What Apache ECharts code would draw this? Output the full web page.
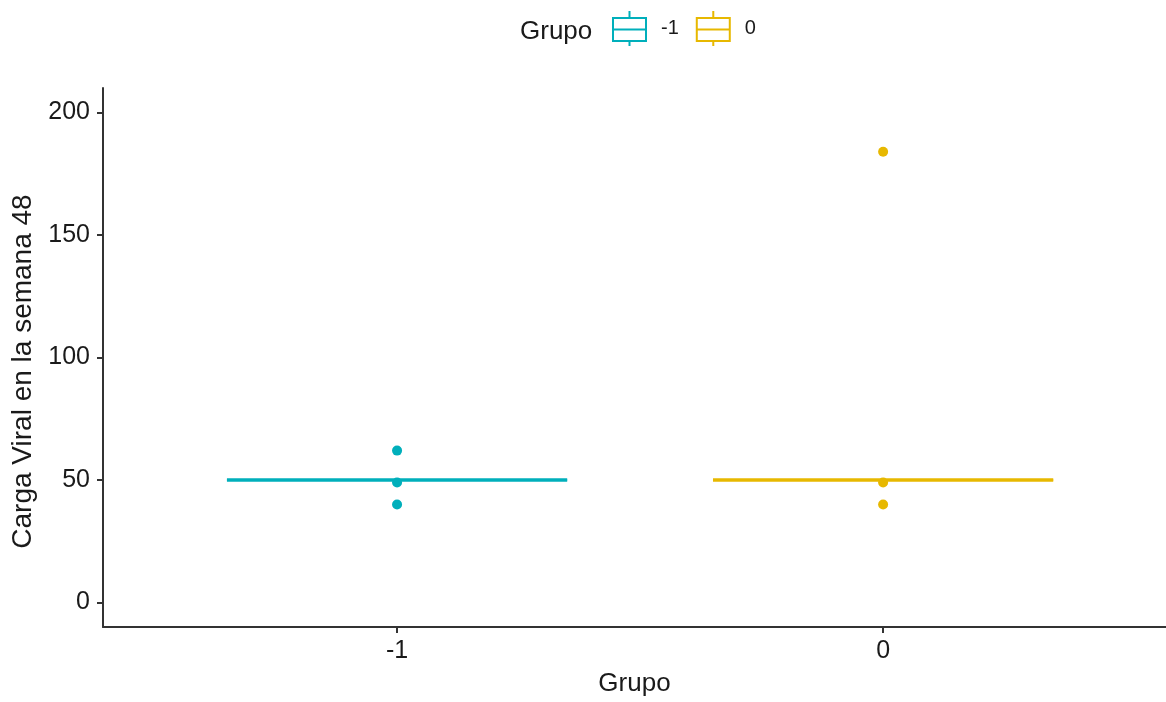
<!DOCTYPE html>
<html>
<head>
<meta charset="utf-8">
<script src="https://cdn.jsdelivr.net/npm/echarts@6/dist/echarts.min.js"></script>
<style>html,body{margin:0;padding:0;background:#fff;}#c{width:1166px;height:702px;}</style>
</head>
<body>
<div id="c"></div>
<script>
// Data
const groups = ['-1', '0'];
const groupColors = ['#00AFBB', '#E7B800'];
// [min whisker, Q1, median, Q3, max whisker]
const boxNeg1 = [50, 50, 50, 50, 50];
const box0 = [50, 50, 50, 50, 50];
const outliersNeg1 = [62, 49, 40];
const outliers0 = [184, 49, 40];
const yTicks = [0, 50, 100, 150, 200];

const boxes = [boxNeg1, box0];
const outliers = [outliersNeg1, outliers0];
const halfWidth = 0.35;

const chart = echarts.init(document.getElementById('c'));
const font = 'Liberation Sans, Arial, sans-serif';
const boxIcon = 'path://M0,7 L33,7 L33,30 L0,30 Z M0,18.5 L33,18.5 M16.5,0 L16.5,7 M16.5,30 L16.5,35';

const series = [];
groups.forEach((g, i) => {
  series.push({
    name: g,
    type: 'scatter',
    data: outliers[i].map(v => [i + 1, v]),
    symbolSize: 10,
    itemStyle: { color: groupColors[i], opacity: 1 },
    z: 2,
    silent: true
  });
  series.push({
    name: g,
    type: 'custom',
    data: [[i + 1].concat(boxes[i])],
    z: 3,
    silent: true,
    itemStyle: { color: groupColors[i] },
    renderItem: function (params, api) {
      const x = api.value(0);
      const col = groupColors[i];
      const pMin = api.coord([x, api.value(1)]);
      const pQ1L = api.coord([x - halfWidth, api.value(2)]);
      const pQ3R = api.coord([x + halfWidth, api.value(4)]);
      const pMedL = api.coord([x - halfWidth, api.value(3)]);
      const pMedR = api.coord([x + halfWidth, api.value(3)]);
      const pMax = api.coord([x, api.value(5)]);
      const pQ1 = api.coord([x, api.value(2)]);
      const pQ3 = api.coord([x, api.value(4)]);
      return {
        type: 'group',
        children: [
          { type: 'line', shape: { x1: pMin[0], y1: pMin[1], x2: pQ1[0], y2: pQ1[1] }, style: { stroke: col, lineWidth: 1.5 } },
          { type: 'line', shape: { x1: pQ3[0], y1: pQ3[1], x2: pMax[0], y2: pMax[1] }, style: { stroke: col, lineWidth: 1.5 } },
          { type: 'rect', shape: { x: pQ1L[0], y: pQ3R[1], width: pQ3R[0] - pQ1L[0], height: pQ1L[1] - pQ3R[1] }, style: { stroke: col, fill: 'none', lineWidth: 1.5 } },
          { type: 'line', shape: { x1: pMedL[0], y1: pMedL[1], x2: pMedR[0], y2: pMedR[1] }, style: { stroke: col, lineWidth: 3.5 } }
        ]
      };
    }
  });
});

chart.setOption({
  animation: false,
  backgroundColor: '#fff',
  title: {
    text: 'Grupo', left: 515, top: 14,
    textStyle: { fontFamily: font, fontSize: 26, fontWeight: 'normal', color: '#1a1a1a' }
  },
  legend: {
    left: 607, top: 5,
    itemWidth: 33, itemHeight: 35, itemGap: 17,
    selectedMode: false,
    textStyle: { fontFamily: font, fontSize: 20, color: '#1a1a1a', padding: [0, 0, 0, 10] },
    data: groups.map((g, i) => ({
      name: g, icon: boxIcon,
      itemStyle: { color: 'rgba(0,0,0,0)', borderColor: groupColors[i], borderWidth: 2 }
    }))
  },
  grid: { left: 103, top: 88, right: 0, bottom: 69, containLabel: false },
  xAxis: {
    type: 'value', min: 0.395, max: 2.582,
    name: 'Grupo', nameLocation: 'middle', nameGap: 44,
    nameTextStyle: { fontFamily: font, fontSize: 26, color: '#1a1a1a' },
    axisLine: { show: true, onZero: false, lineStyle: { color: '#333', width: 2 } },
    axisTick: { show: true, length: 6, lineStyle: { color: '#333', width: 2 }, customValues: [1, 2] },
    axisLabel: {
      customValues: [1, 2], margin: 12,
      formatter: v => groups[Math.round(v) - 1],
      fontFamily: font, fontSize: 25, color: '#1a1a1a'
    },
    splitLine: { show: false }
  },
  yAxis: {
    type: 'value', min: -10, max: 210,
    name: 'Carga Viral en la semana 48', nameLocation: 'middle', nameGap: 64, nameRotate: 90,
    nameTextStyle: { fontFamily: font, fontSize: 28, color: '#1a1a1a', padding: [0, 28, 0, 0] },
    axisLine: { show: true, onZero: false, lineStyle: { color: '#333', width: 2 } },
    axisTick: { show: true, length: 6, lineStyle: { color: '#333', width: 2 }, customValues: yTicks },
    axisLabel: { customValues: yTicks, margin: 13, fontFamily: font, fontSize: 25, color: '#1a1a1a' },
    splitLine: { show: false }
  },
  series: series
});
</script>
</body>
</html>
